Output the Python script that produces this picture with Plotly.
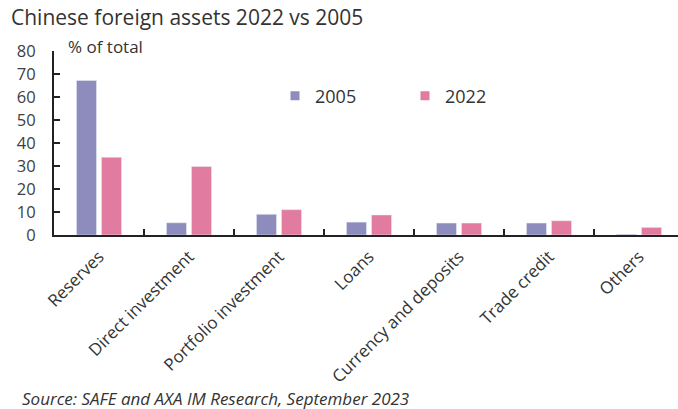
import plotly.graph_objects as go

# Share of Chinese foreign assets by type, % of total
categories = ["Reserves", "Direct investment", "Portfolio investment", "Loans",
              "Currency and deposits", "Trade credit", "Others"]
values_2005 = [67.2, 5.3, 9.0, 5.6, 5.2, 5.2, 0.3]
values_2022 = [33.8, 29.8, 11.0, 8.7, 5.2, 6.2, 3.3]
y_ticks = [0, 10, 20, 30, 40, 50, 60, 70, 80]

C2005 = "#8E8CBC"
C2022 = "#E27BA0"
FONT = "Open Sans"

W, H = 678, 409
ML, MR, MT, MB = 54, 0, 51, 174
PW, PH = W - ML - MR, H - MT - MB


def px_x(x):
    return (x - ML) / PW


def px_y(y):
    return (H - MB - y) / PH


fig = go.Figure()
fig.add_trace(go.Bar(x=categories, y=values_2005, name="2005",
                     marker_color=C2005, showlegend=False))
fig.add_trace(go.Bar(x=categories, y=values_2022, name="2022",
                     marker_color=C2022, showlegend=False))

# legend entries with small square keys
for name, col in [("2005", C2005), ("2022", C2022)]:
    fig.add_trace(go.Scatter(x=[None], y=[None], mode="markers", name=name,
                             marker=dict(symbol="square", size=9, color=col)))

fig.update_layout(
    width=W, height=H,
    margin=dict(l=ML, r=MR, t=MT, b=MB),
    paper_bgcolor="white", plot_bgcolor="white",
    font=dict(family=FONT, size=17, color="#404040"),
    barmode="group", bargap=0.444, bargroupgap=0.2,
    title=dict(text="Chinese foreign assets 2022 vs 2005",
               x=11 / W, xref="container", xanchor="left",
               y=1 - 18 / H, yref="container", yanchor="middle",
               font=dict(family=FONT, size=21, color="#333333")),
    legend=dict(orientation="h", x=px_x(275), y=px_y(96), xanchor="left", yanchor="middle",
                entrywidth=85, font=dict(size=18, color="#333333"),
                bgcolor="rgba(0,0,0,0)", itemwidth=30),
    showlegend=True,
)

fig.update_xaxes(
    type="category", range=[-0.5, 6.5 - 6 / 90],
    showline=True, linecolor="#222222", linewidth=2,
    ticks="inside", tickson="boundaries", ticklen=6, tickwidth=2, tickcolor="#222222",
    tickangle=-45, tickfont=dict(size=17, color="#333333"), ticklabelstandoff=3,
    showgrid=False, zeroline=False,
)
fig.update_yaxes(
    range=[0, 80], tickvals=y_ticks,
    showline=True, linecolor="#222222", linewidth=2,
    ticks="inside", ticklen=6, tickwidth=2, tickcolor="#222222",
    tickfont=dict(size=16.5, color="#404040"), ticklabelstandoff=13,
    showgrid=False, zeroline=False,
)

fig.add_annotation(text="% of total", xref="paper", yref="paper",
                   x=px_x(66), y=px_y(46), xanchor="left", yanchor="middle",
                   showarrow=False, font=dict(size=17, color="#333333"))
fig.add_annotation(text="<i>Source: SAFE and AXA IM Research, September 2023</i>",
                   xref="paper", yref="paper",
                   x=px_x(20), y=px_y(398), xanchor="left", yanchor="middle",
                   showarrow=False, font=dict(size=17, color="#333333"))

fig.write_html("out.html")
